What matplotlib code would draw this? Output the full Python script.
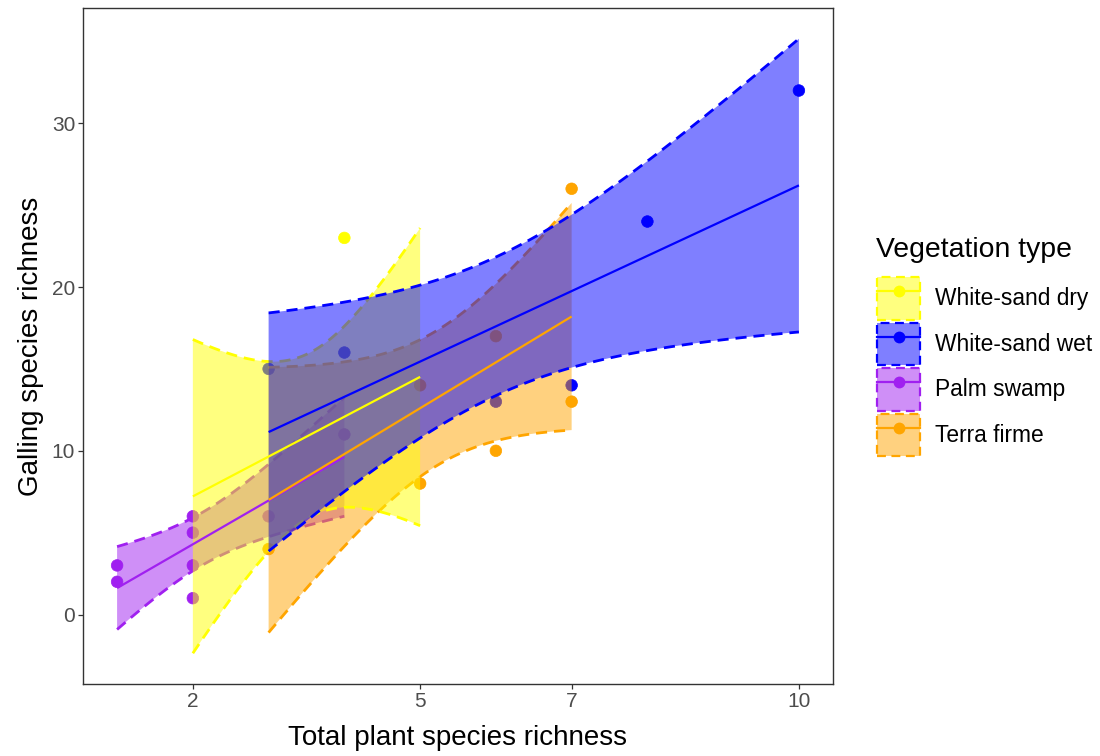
import numpy as np
import matplotlib
matplotlib.use('Agg')
import matplotlib.pyplot as plt
from matplotlib.lines import Line2D
from matplotlib.patches import Patch
from matplotlib.legend_handler import HandlerTuple
from matplotlib.colors import to_rgba

# ---------------- data (one row per site, in drawing order) ----------------
vegetation = (['White-sand wet'] * 3 + ['White-sand dry'] * 9 + ['Terra firme'] * 9
              + ['Palm swamp'] * 8 + ['White-sand wet'] * 7)
plant_richness = [5, 7, 7,
                  2, 3, 3, 3, 3, 4, 4, 5, 5,
                  3, 4, 4, 5, 5, 6, 6, 7, 7,
                  1, 1, 2, 2, 2, 2, 3, 4,
                  3, 3, 4, 6, 7, 8, 10]
galling_richness = [8, 13, 26,
                    3, 4, 6, 15, 15, 11, 23, 8, 14,
                    4, 11, 16, 8, 14, 10, 17, 13, 26,
                    3, 2, 6, 5, 3, 1, 6, 11,
                    15, 15, 16, 13, 14, 24, 32]

legend_order = ['White-sand dry', 'White-sand wet', 'Palm swamp', 'Terra firme']
palette = {'White-sand dry': '#FFFF00', 'White-sand wet': '#0000FF',
           'Palm swamp': '#A020F0', 'Terra firme': '#FFA500'}
x_breaks = [2, 5, 7, 10]
y_breaks = [0, 10, 20, 30]
x_title = 'Total plant species richness'
y_title = 'Galling species richness'
legend_title = 'Vegetation type'

# two-sided 95% Student t critical values by degrees of freedom
T975 = {1: 12.706, 2: 4.303, 3: 3.182, 4: 2.776, 5: 2.571, 6: 2.447, 7: 2.365,
        8: 2.306, 9: 2.262, 10: 2.228, 11: 2.201, 12: 2.179, 13: 2.160, 14: 2.145}

# ---------------- linear model per group (like geom_smooth(method = "lm")) --------
veg = np.array(vegetation)
px = np.array(plant_richness, float)
gy = np.array(galling_richness, float)


def lm_band(x, y, n_grid=80):
    n = len(x)
    m = x.mean()
    sxx = ((x - m) ** 2).sum()
    b = ((x - m) * (y - y.mean())).sum() / sxx
    a = y.mean() - b * m
    s = np.sqrt(((y - (a + b * x)) ** 2).sum() / (n - 2))
    xg = np.linspace(x.min(), x.max(), n_grid)
    yh = a + b * xg
    se = s * np.sqrt(1.0 / n + (xg - m) ** 2 / sxx)
    t = T975[n - 2]
    return xg, yh, yh - t * se, yh + t * se


fits = {g: lm_band(px[veg == g], gy[veg == g]) for g in legend_order}

# ---------------- figure ----------------
plt.rcParams['font.family'] = ['Liberation Sans', 'DejaVu Sans']
W, H = 1100, 756
fig = plt.figure(figsize=(W / 100, H / 100), dpi=100)
ax = fig.add_axes([83 / W, 1 - 684 / H, 750 / W, 676 / H])

DASH = (0, (4, 2.5))

# points first (under the ribbons); a point that is covered by a later point at the
# same position is drawn a little smaller so no antialiasing fringe shows
pt_cols = [palette[v] for v in vegetation]
coords = list(zip(plant_richness, galling_richness))
sizes = [50 if c in coords[i + 1:] else 70 for i, c in enumerate(coords)]
ax.scatter(px, gy, s=sizes, c=pt_cols, edgecolors=pt_cols, linewidths=0.5, zorder=1)

# ribbons: groups drawn in alphabetical order
for g in sorted(legend_order):
    xg, yh, lo, hi = fits[g]
    c = palette[g]
    ax.fill_between(xg, lo, hi, facecolor=to_rgba(c, 0.5), edgecolor='none', zorder=2)
    ax.plot(xg, lo, color=c, lw=2.0, ls=DASH, zorder=2)
    ax.plot(xg, hi, color=c, lw=2.0, ls=DASH, zorder=2)

# fitted lines on top
for g in sorted(legend_order):
    xg, yh, lo, hi = fits[g]
    ax.plot(xg, yh, color=palette[g], lw=1.6, solid_capstyle='butt', zorder=3)

# scale limits with 5% expansion
xmin, xmax = px.min(), px.max()
ylo = min(gy.min(), min(f[2].min() for f in fits.values()))
yhi = max(gy.max(), max(f[3].max() for f in fits.values()))
ax.set_xlim(xmin - 0.05 * (xmax - xmin), xmax + 0.05 * (xmax - xmin))
ax.set_ylim(ylo - 0.05 * (yhi - ylo), yhi + 0.05 * (yhi - ylo))
ax.set_xticks(x_breaks)
ax.set_yticks(y_breaks)

for sp in ax.spines.values():
    sp.set_color('#333333')
    sp.set_linewidth(1.0)
ax.tick_params(direction='out', length=3.6, width=0.9, color='#333333',
               labelcolor='#4D4D4D', labelsize=15, pad=2.0)
ax.set_xlabel(x_title, fontsize=20, color='black', labelpad=10)
ax.set_ylabel(y_title, fontsize=20, color='black', labelpad=6)

# legend
handles = []
for g in legend_order:
    c = palette[g]
    box = Patch(facecolor=to_rgba(c, 0.5), edgecolor=c, linestyle=DASH, linewidth=1.6)
    ln = Line2D([0], [0], color=c, lw=1.6, marker='o', markersize=8.5, markeredgewidth=0)
    handles.append((box, ln))
fig.text(876 / W, 1 - 250 / H, legend_title, fontsize=20.4, ha='left', va='center')
leg = fig.legend(handles, legend_order, handler_map={tuple: HandlerTuple(ndivide=1, pad=0)},
                 loc='upper left', bbox_to_anchor=(877 / W, 1 - 277 / H),
                 bbox_transform=fig.transFigure, frameon=False, fontsize=16.4,
                 handlelength=1.89, handleheight=2.5, labelspacing=0.13,
                 handletextpad=0.66, borderpad=0, borderaxespad=0, numpoints=1)

fig.savefig('out.png', dpi=100)
